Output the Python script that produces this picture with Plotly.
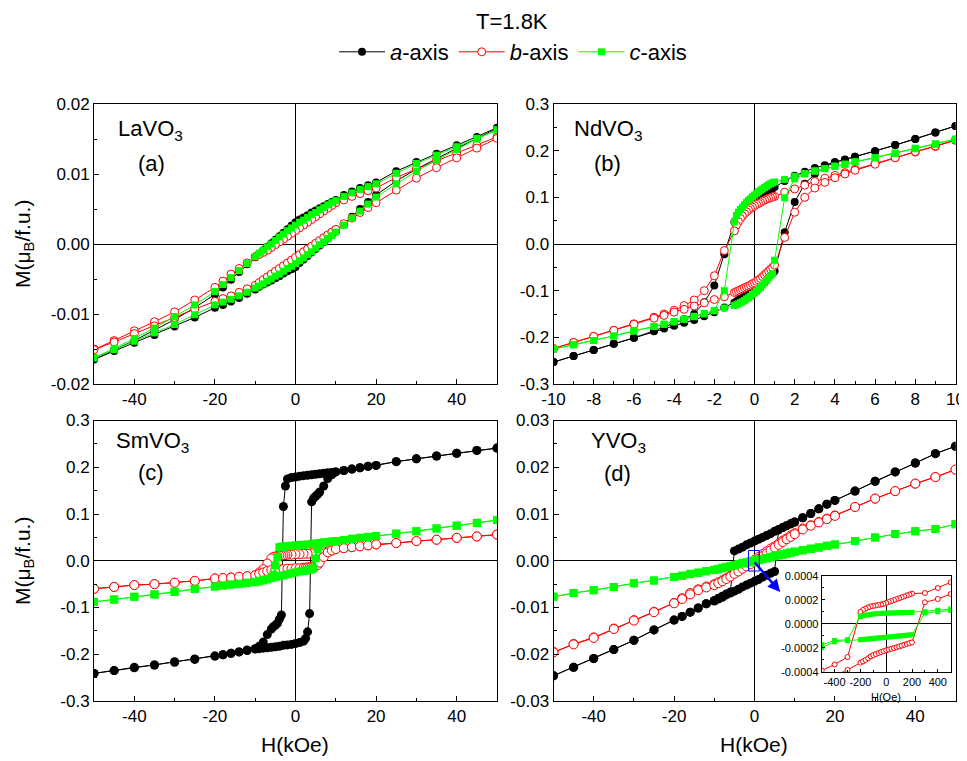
import plotly.graph_objects as go

# page body adds an 8 px margin, so the figure is drawn 8 px smaller and every
# reference pixel position is shifted by that offset
OFF = 8
W, H = 967 - OFF, 761 - OFF
FONT = "Liberation Sans, Arial, sans-serif"

# ---------------- Panel (a) LaVO3 ----------------
la_H_down = [50, 45, 40, 35, 30, 25, 20, 18, 16, 14, 12, 10,
             9, 8, 7, 6, 5, 4, 3, 2, 1, 0, -1, -2, -3, -4, -5, -6, -7, -8, -9, -10,
             -12, -14, -16, -18, -20, -25, -30, -35, -40, -45, -50]
la_H_up = [-50, -45, -40, -35, -30, -25, -20, -18, -16, -14, -12, -10,
           -9, -8, -7, -6, -5, -4, -3, -2, -1, 0, 1, 2, 3, 4, 5, 6, 7, 8, 9, 10,
           12, 14, 16, 18, 20, 25, 30, 35, 40, 45, 50]
la_a_down = [.0166, .0153, .0141, .0129, .0117, .0104, .0088, .0084, .0080, .0075, .0070, .0063,
             .0060, .0057, .0054, .0051, .0048, .0045, .0041, .0038, .0035, .0031, .0026, .0021, .0016, .0011,
             .0006, .0001, -.0004, -.0009, -.0014, -.0019,
             -.0029, -.0040, -.0051, -.0062, -.0072, -.0091, -.0108, -.0123, -.0138, -.0151, -.0164]
la_a_up = [-.0165, -.0153, -.0141, -.0130, -.0118, -.0105, -.0091, -.0087, -.0082, -.0077, -.0071, -.0065,
           -.0061, -.0058, -.0055, -.0052, -.0049, -.0046, -.0042, -.0039, -.0036, -.0033, -.0027, -.0022,
           -.0017, -.0012, -.0007, -.0002, .0003, .0008, .0013, .0018,
           .0028, .0039, .0050, .0060, .0070, .0090, .0107, .0122, .0137, .0151, .0165]
la_b_down = [.0153, .0141, .0130, .0119, .0107, .0095, .0080, .0076, .0072, .0068, .0063, .0059,
             .0055, .0051, .0047, .0043, .0039, .0035, .0031, .0027, .0023, .0019, .0015, .0011, .0007, .0003,
             -.0001, -.0005, -.0009, -.0012, -.0015, -.0018,
             -.0027, -.0035, -.0043, -.0053, -.0062, -.0080, -.0097, -.0111, -.0124, -.0138, -.0150]
la_b_up = [-.0151, -.0140, -.0128, -.0117, -.0105, -.0093, -.0082, -.0078, -.0074, -.0069, -.0064, -.0059,
           -.0055, -.0051, -.0047, -.0043, -.0039, -.0035, -.0031, -.0027, -.0023, -.0019, -.0015, -.0011,
           -.0007, -.0003, .0001, .0005, .0009, .0013, .0017, .0021,
           .0029, .0037, .0045, .0052, .0059, .0077, .0094, .0109, .0123, .0137, .0151]
la_c_down = [.0163, .0151, .0139, .0127, .0115, .0101, .0086, .0082, .0078, .0073, .0068, .0062,
             .0059, .0056, .0052, .0049, .0045, .0042, .0038, .0034, .0031, .0027, .0023, .0019, .0014, .0010,
             .0005, .0000, -.0004, -.0009, -.0013, -.0018,
             -.0028, -.0038, -.0048, -.0058, -.0068, -.0087, -.0104, -.0120, -.0135, -.0149, -.0162]
la_c_up = [-.0163, -.0151, -.0139, -.0127, -.0115, -.0101, -.0087, -.0083, -.0079, -.0074, -.0069, -.0063,
           -.0060, -.0057, -.0053, -.0050, -.0046, -.0043, -.0039, -.0035, -.0032, -.0028, -.0024, -.0020,
           -.0015, -.0011, -.0006, -.0001, .0003, .0008, .0012, .0017,
           .0027, .0037, .0047, .0057, .0067, .0086, .0104, .0120, .0135, .0150, .0163]

# ---------------- Panel (b) NdVO3 ----------------
nd_H_down = [10, 9, 8, 7, 6, 5, 4.5, 4, 3.5, 3, 2.5, 2, 1.5,
             1.0, 0.9, 0.8, 0.7, 0.6, 0.5, 0.4, 0.3, 0.2, 0.1, 0, -0.1, -0.2, -0.3, -0.4, -0.5, -0.6, -0.7,
             -0.8, -0.9, -1.0,
             -1.5, -2, -2.5, -3, -3.5, -4, -4.5, -5, -6, -7, -8, -9, -10]
nd_H_up = [-10, -9, -8, -7, -6, -5, -4.5, -4, -3.5, -3, -2.5, -2, -1.5,
           -1.0, -0.9, -0.8, -0.7, -0.6, -0.5, -0.4, -0.3, -0.2, -0.1, 0, 0.1, 0.2, 0.3, 0.4, 0.5, 0.6, 0.7,
           0.8, 0.9, 1.0,
           1.5, 2, 2.5, 3, 3.5, 4, 4.5, 5, 6, 7, 8, 9, 10]
nd_a_down = [.253, .239, .225, .212, .199, .187, .180, .175, .169, .163, .155, .146, .135,
             .122, .119, .117, .114, .111, .108, .105, .101, .098, .094, .090, .086, .082, .078, .074, .070,
             .066, .061, .057, .052, .047,
             -.022, -.089, -.125, -.150, -.161, -.170, -.178, -.186, -.201, -.214, -.227, -.240, -.253]
nd_a_up = [-.253, -.240, -.227, -.214, -.201, -.187, -.181, -.175, -.169, -.163, -.155, -.146, -.136,
           -.126, -.123, -.120, -.117, -.114, -.111, -.108, -.105, -.102, -.099, -.096, -.093, -.090, -.086,
           -.083, -.079, -.075, -.071, -.067, -.063, -.058,
           .025, .090, .129, .150, .165, .175, .181, .187, .199, .212, .225, .239, .253]
nd_b_down = [.222, .209, .197, .185, .172, .160, .153, .147, .141, .134, .126, .118, .111,
             .102, .101, .099, .098, .096, .094, .092, .089, .087, .085, .082, .079, .076, .073, .069, .065,
             .060, .055, .048, .040, .028,
             -.014, -.068, -.100, -.120, -.132, -.142, -.150, -.157, -.171, -.185, -.198, -.211, -.224]
nd_b_up = [-.224, -.211, -.198, -.185, -.172, -.159, -.153, -.146, -.140, -.133, -.126, -.119, -.113,
           -.104, -.102, -.100, -.098, -.096, -.094, -.092, -.090, -.088, -.085, -.083, -.080, -.077, -.074,
           -.070, -.066, -.062, -.058, -.054, -.050, -.045,
           .014, .068, .100, .120, .132, .142, .150, .158, .171, .185, .198, .210, .223]
nd_c_down = [.224, .214, .204, .194, .185, .176, .171, .167, .162, .157, .151, .145, .138,
             .133, .131, .129, .127, .124, .121, .118, .115, .112, .109, .105, .101, .097, .093, .089, .084,
             .079, .074, .068, .061, .047,
             -.100, -.143, -.149, -.155, -.161, -.166, -.172, -.177, -.186, -.197, -.207, -.216, -.225]
nd_c_up = [-.225, -.216, -.207, -.197, -.187, -.177, -.172, -.167, -.161, -.156, -.150, -.143, -.137,
           -.132, -.130, -.128, -.126, -.124, -.121, -.118, -.115, -.112, -.108, -.105, -.101, -.097, -.093,
           -.088, -.083, -.078, -.073, -.068, -.064, -.035,
           .099, .140, .150, .156, .161, .166, .171, .176, .185, .195, .205, .215, .225]

# ---------------- Panel (c) SmVO3 ----------------
sm_H_down = [50, 45, 40, 35, 30, 25, 20, 18, 16, 14, 12, 10,
             9, 8, 7, 6, 5, 4, 3, 2, 1, 0, -1, -2,
             -2.5, -3, -3.5, -4, -4.5, -5, -5.5, -6, -7, -8,
             -9, -10, -12, -14, -16, -18, -20, -25, -30, -35, -40, -45, -50]
sm_H_up = [-50, -45, -40, -35, -30, -25, -20, -18, -16, -14, -12, -10,
           -9, -8, -7, -6, -5, -4, -3, -2, -1, 0, 1, 2,
           2.5, 3, 3.5, 4, 4.5, 5, 5.5, 6, 7, 8,
           9, 10, 12, 14, 16, 18, 20, 25, 30, 35, 40, 45, 50]
sm_a_down = [.241, .236, .230, .224, .218, .212, .204, .202, .199, .196, .193, .190,
             .189, .188, .187, .186, .185, .184, .183, .182, .181, .179, .178, .175,
             .160, .116, -.116, -.125, -.134, -.138, -.141, -.146, -.158, -.174,
             -.183, -.188, -.191, -.195, -.198, -.201, -.204, -.210, -.216, -.223, -.228, -.235, -.241]
sm_a_up = [-.241, -.235, -.229, -.223, -.217, -.211, -.204, -.201, -.198, -.195, -.192, -.189,
           -.188, -.187, -.186, -.185, -.184, -.183, -.181, -.180, -.179, -.177, -.175, -.172,
           -.166, -.152, -.113, .126, .134, .138, .142, .147, .160, .176,
           .184, .190, .193, .196, .199, .202, .204, .212, .218, .224, .230, .236, .241]
sm_b_down = [.056, .052, .049, .045, .042, .038, .035, .033, .031, .029, .027, .025,
             .022, .020, .018, .017, .016, .016, .015, .015, .014, .014, .013, .013,
             .012, .012, .011, .011, .010, .009, .008, .005, -.006, -.018,
             -.025, -.031, -.033, -.035, -.036, -.037, -.038, -.043, -.047, -.050, -.052, -.056, -.060]
sm_b_up = [-.060, -.056, -.052, -.050, -.047, -.043, -.038, -.037, -.036, -.034, -.033, -.031,
           -.028, -.025, -.022, -.020, -.019, -.018, -.018, -.017, -.017, -.016, -.016, -.015,
           -.015, -.014, -.014, -.013, -.012, -.011, -.009, -.004, .008, .018,
           .022, .025, .027, .029, .031, .033, .035, .038, .042, .045, .049, .052, .056]
sm_c_down = [.087, .081, .075, .069, .063, .058, .053, .051, .049, .047, .044, .042,
             .041, .040, .039, .038, .037, .036, .035, .034, .034, .033, .032, .031,
             .031, .030, .030, .029, .008, -.010, -.030, -.037, -.040, -.042,
             -.044, -.046, -.048, -.050, -.051, -.053, -.055, -.060, -.067, -.072, -.077, -.083, -.088]
sm_c_up = [-.088, -.083, -.077, -.072, -.066, -.060, -.055, -.053, -.051, -.049, -.047, -.045,
           -.043, -.041, -.039, -.037, -.035, -.033, -.031, -.029, -.027, -.025, -.023, -.022,
           -.021, -.020, -.019, -.018, -.016, .005, .025, .035, .039, .040,
           .041, .042, .044, .047, .049, .051, .053, .058, .063, .069, .075, .081, .087]

# ---------------- Panel (d) YVO3 ----------------
y_H_down = [50, 45, 40, 35, 30, 25, 20, 18, 16, 14, 12, 10,
            9, 8, 7, 6, 5, 4, 3, 2, 1, 0, -1, -2, -3, -4, -5,
            -6, -7, -8, -9, -10,
            -12, -14, -16, -18, -20, -25, -30, -35, -40, -45, -50]
y_H_up = [-50, -45, -40, -35, -30, -25, -20, -18, -16, -14, -12, -10,
          -9, -8, -7, -6, -5, -4, -3, -2, -1, 0, 1, 2, 3, 4, 5,
          6, 7, 8, 9, 10,
          12, 14, 16, 18, 20, 25, 30, 35, 40, 45, 50]
y_a_down = [.0245, .0229, .0209, .0190, .0170, .0149, .0129, .0121, .0111, .0101, .0092, .0083,
            .0079, .0075, .0071, .0067, .0063, .0058, .0054, .0050, .0046, .0042, .0038, .0034, .0029, .0025, .0021,
            -.0067, -.0071, -.0076, -.0080, -.0085,
            -.0092, -.0101, -.0110, -.0119, -.0127, -.0148, -.0170, -.0190, -.0209, -.0228, -.0246]
y_a_up = [-.0246, -.0228, -.0209, -.0190, -.0170, -.0148, -.0127, -.0119, -.0110, -.0101, -.0092, -.0086,
          -.0082, -.0078, -.0073, -.0069, -.0065, -.0061, -.0056, -.0052, -.0048, -.0044, -.0040, -.0035,
          -.0031, -.0027, -.0023,
          .0066, .0071, .0075, .0079, .0083,
          .0092, .0101, .0111, .0121, .0129, .0149, .0170, .0190, .0209, .0229, .0245]
y_b_down = [.0195, .0179, .0165, .0149, .0133, .0115, .0097, .0090, .0083, .0076, .0069, .0059,
            .0054, .0048, .0043, .0037, .0031, .0026, .0020, .0014, .0008, .0002, -.0004, -.0010, -.0015,
            -.0021, -.0026,
            -.0032, -.0037, -.0042, -.0046, -.0050,
            -.0055, -.0061, -.0069, -.0080, -.0090, -.0109, -.0127, -.0145, -.0164, -.0178, -.0195]
y_b_up = [-.0196, -.0179, -.0165, -.0146, -.0128, -.0110, -.0091, -.0082, -.0072, -.0063, -.0057, -.0052,
          -.0048, -.0044, -.0039, -.0034, -.0028, -.0023, -.0017, -.0012, -.0007, -.0002, .0004, .0010,
          .0016, .0022, .0028,
          .0034, .0040, .0046, .0051, .0057,
          .0067, .0075, .0082, .0089, .0096, .0115, .0133, .0149, .0165, .0179, .0195]
y_c_down = [.0078, .0068, .0063, .0057, .0050, .0042, .0035, .0032, .0029, .0026, .0023, .0020,
            .0018, .0016, .0014, .0012, .0010, .0008, .0006, .0004, .0003, .0001, -.0001, -.0003, -.0005,
            -.0007, -.0009,
            -.0011, -.0013, -.0015, -.0017, -.0019,
            -.0022, -.0025, -.0028, -.0032, -.0035, -.0042, -.0048, -.0056, -.0063, -.0069, -.0077]
y_c_up = [-.0077, -.0069, -.0063, -.0056, -.0048, -.0042, -.0035, -.0032, -.0029, -.0026, -.0023, -.0020,
          -.0018, -.0016, -.0014, -.0012, -.0010, -.0008, -.0006, -.0004, -.0003, -.0001, .0001, .0003,
          .0005, .0007, .0009,
          .0011, .0013, .0015, .0017, .0019,
          .0022, .0025, .0028, .0032, .0035, .0042, .0050, .0057, .0063, .0068, .0078]

# ---------------- Inset of (d), field in Oe ----------------
in_H_down = [500, 400, 300,
             200, 180, 160, 140, 120, 100, 80, 60, 40, 20, 0, -20, -40, -60, -80, -100, -120, -140, -160,
             -180, -200,
             -300, -400, -500]
in_H_up = [-500, -400, -300,
           -200, -180, -160, -140, -120, -100, -80, -60, -40, -20, 0, 20, 40, 60, 80, 100, 120, 140, 160,
           180, 200,
           300, 400, 500]
in_b_down = [.000344, .000297, .000256,
             .000250, .000243, .000236, .000228, .000220, .000212, .000204, .000197, .000189, .000181,
             .000173, .000166, .000160, .000156, .000152, .000148, .000144, .000136, .000126, .000114, .000098,
             -.000278, -.000340, -.000390]
in_b_up = [-.000460, -.000430, -.000385,
           -.000325, -.000314, -.000302, -.000288, -.000272, -.000262, -.000253, -.000244, -.000236,
           -.000229, -.000222, -.000216, -.000209, -.000203, -.000196, -.000190, -.000183, -.000176,
           -.000169, -.000162, -.000156,
           .000178, .000206, .000247]
in_c_down = [.000122, .000112, .000100,
             .000095, .000094, .000093, .000093, .000092, .000091, .000091, .000090, .000090, .000089,
             .000088, .000087, .000086, .000084, .000082, .000080, .000077, .000074, .000070, .000066, .000060,
             -.000133, -.000140, -.000175]
in_c_up = [-.000200, -.000150, -.000142,
           -.000133, -.000131, -.000129, -.000127, -.000125, -.000123, -.000121, -.000119, -.000117,
           -.000115, -.000113, -.000111, -.000109, -.000107, -.000105, -.000103, -.000101, -.000099,
           -.000097, -.000095, -.000092,
           .000089, .000100, .000110]

# ---------------- Tick labels ----------------
x50_ticks = [-40, -20, 0, 20, 40]
x50_text = ["-40", "-20", "0", "20", "40"]
x10_ticks = [-10, -8, -6, -4, -2, 0, 2, 4, 6, 8, 10]
x10_text = ["-10", "-8", "-6", "-4", "-2", "0", "2", "4", "6", "8", "10"]
ya_ticks = [-0.02, -0.01, 0, 0.01, 0.02]
ya_text = ["-0.02", "-0.01", "0.00", "0.01", "0.02"]
y3_ticks = [-0.3, -0.2, -0.1, 0, 0.1, 0.2, 0.3]
y3_text = ["-0.3", "-0.2", "-0.1", "0.0", "0.1", "0.2", "0.3"]
yd_ticks = [-0.03, -0.02, -0.01, 0, 0.01, 0.02, 0.03]
yd_text = ["-0.03", "-0.02", "-0.01", "0.00", "0.01", "0.02", "0.03"]
in_x_ticks = [-400, -200, 0, 200, 400]
in_x_text = ["-400", "-200", "0", "200", "400"]
in_y_ticks = [-0.0004, -0.0002, 0, 0.0002, 0.0004]
in_y_text = ["-0.0004", "-0.0002", "0.0000", "0.0002", "0.0004"]

series_names = ["<i>a</i>-axis", "<i>b</i>-axis", "<i>c</i>-axis"]
BLACK, RED, GREEN = "#000000", "#FF0000", "#00FF00"

fig = go.Figure()


def add(xa, ya, Hd, Md, Hu, Mu, kind, size, legend=False):
    if kind == 0:
        marker = dict(symbol="circle", size=size, color=BLACK)
        color = BLACK
    elif kind == 1:
        marker = dict(symbol="circle", size=size, color="white", line=dict(color=RED, width=1))
        color = RED
    else:
        marker = dict(symbol="square", size=size - 1, color=GREEN)
        color = GREEN
    fig.add_trace(go.Scatter(
        x=Hd + Hu, y=Md + Mu, mode="lines+markers", xaxis=xa, yaxis=ya,
        line=dict(color=color, width=1), marker=marker,
        name=series_names[kind], showlegend=legend))


panels = [
    ("x", "y", la_H_down, la_H_up, [(la_a_down, la_a_up), (la_b_down, la_b_up), (la_c_down, la_c_up)], 8),
    ("x2", "y2", nd_H_down, nd_H_up, [(nd_a_down, nd_a_up), (nd_b_down, nd_b_up), (nd_c_down, nd_c_up)], 8),
    ("x3", "y3", sm_H_down, sm_H_up, [(sm_a_down, sm_a_up), (sm_b_down, sm_b_up), (sm_c_down, sm_c_up)], 9),
    ("x4", "y4", y_H_down, y_H_up, [(y_a_down, y_a_up), (y_b_down, y_b_up), (y_c_down, y_c_up)], 9),
]
for pi, (xa, ya, Hd, Hu, sers, sz) in enumerate(panels):
    for k, (md, mu) in enumerate(sers):
        add(xa, ya, Hd, md, Hu, mu, k, sz, legend=(pi == 0))

add("x5", "y5", in_H_down, in_b_down, in_H_up, in_b_up, 1, 5)
add("x5", "y5", in_H_down, in_c_down, in_H_up, in_c_up, 2, 6)


def fx(px):
    return (px - OFF) / W


def fy(py):
    return 1 - (py - OFF) / H


def axis(domain, anchor, rng, tickvals, ticktext, minor_dtick, fsize=17, ticklen=5, minlen=3):
    return dict(
        domain=domain, anchor=anchor, range=rng, autorange=False,
        showline=True, linecolor="black", linewidth=1, mirror=True,
        ticks="inside", ticklen=ticklen, tickwidth=1, tickcolor="black",
        tickmode="array", tickvals=tickvals, ticktext=ticktext,
        tickfont=dict(family=FONT, size=fsize, color="black"),
        minor=dict(ticks="inside", ticklen=minlen, tickwidth=1, tickcolor="black",
                   tickmode="linear", tick0=0, dtick=minor_dtick),
        zeroline=True, zerolinecolor="black", zerolinewidth=1,
        showgrid=False, automargin=False,
    )


L1, R1 = fx(94), fx(497)
L2, R2 = fx(553.5), fx(955.5)
TOP = [fy(384), fy(104)]
BOT = [fy(701), fy(420.5)]

layout = dict(
    width=W, height=H,
    margin=dict(l=0, r=0, t=0, b=0, pad=0, autoexpand=False),
    paper_bgcolor="white", plot_bgcolor="white",
    font=dict(family=FONT, color="black"),
    xaxis=axis([L1, R1], "y", [-50, 50], x50_ticks, x50_text, 10),
    yaxis=axis(TOP, "x", [-0.02, 0.02], ya_ticks, ya_text, 0.005),
    xaxis2=axis([L2, R2], "y2", [-10, 10], x10_ticks, x10_text, 1),
    yaxis2=axis(TOP, "x2", [-0.3, 0.3], y3_ticks, y3_text, 0.05),
    xaxis3=axis([L1, R1], "y3", [-50, 50], x50_ticks, x50_text, 10),
    yaxis3=axis(BOT, "x3", [-0.3, 0.3], y3_ticks, y3_text, 0.05),
    xaxis4=axis([L2, R2], "y4", [-50, 50], x50_ticks, x50_text, 10),
    yaxis4=axis(BOT, "x4", [-0.03, 0.03], yd_ticks, yd_text, 0.005),
    xaxis5=axis([fx(821.7), fx(950.7)], "y5", [-500, 500], in_x_ticks, in_x_text, 100,
                fsize=11, ticklen=3, minlen=2),
    yaxis5=axis([fy(671.7), fy(575.7)], "x5", [-0.0004, 0.0004], in_y_ticks, in_y_text, 0.0001,
                fsize=11, ticklen=3, minlen=2),
    legend=dict(orientation="h", x=fx(513), y=fy(52), xanchor="center", yanchor="middle",
                font=dict(family=FONT, size=22, color="black"), bgcolor="rgba(0,0,0,0)",
                itemwidth=46, tracegroupgap=0),
)
fig.update_layout(**layout)


def ann(text, px, py, size, xanchor="center", yanchor="middle", angle=0):
    fig.add_annotation(text=text, x=fx(px), y=fy(py), xref="paper", yref="paper",
                       showarrow=False, xanchor=xanchor, yanchor=yanchor, textangle=angle,
                       font=dict(family=FONT, size=size, color="black"))


ann("T=1.8K", 512, 22, 22)
ann("LaVO<sub>3</sub>", 116, 130, 22, xanchor="left")
ann("(a)", 151, 163, 22)
ann("NdVO<sub>3</sub>", 572, 130, 22, xanchor="left")
ann("(b)", 607, 163, 22)
ann("SmVO<sub>3</sub>", 114, 442, 22, xanchor="left")
ann("(c)", 151, 472, 22)
ann("YVO<sub>3</sub>", 589, 442, 22, xanchor="left")
ann("(d)", 617, 473, 22)
ann("M(μ<sub>B</sub>/f.u.)", 24, 244, 21, angle=-90)
ann("M(μ<sub>B</sub>/f.u.)", 24, 561, 21, angle=-90)
ann("H(kOe)", 295, 744, 21)
ann("H(kOe)", 754, 744, 21)
ann("H(Oe)", 886, 697, 11)

# blue marker box and arrow pointing to the inset
fig.add_shape(type="rect", xref="x4", yref="y4", x0=-1.5, x1=1.2, y0=-0.0022, y1=0.0022,
              line=dict(color="blue", width=1))
fig.add_annotation(x=6.4, y=-0.0067, ax=-0.3, ay=0.0, xref="x4", yref="y4", axref="x4", ayref="y4",
                   showarrow=True, arrowhead=2, arrowsize=1, arrowwidth=2.5, arrowcolor="blue", text="")

fig.write_html("out.html")
